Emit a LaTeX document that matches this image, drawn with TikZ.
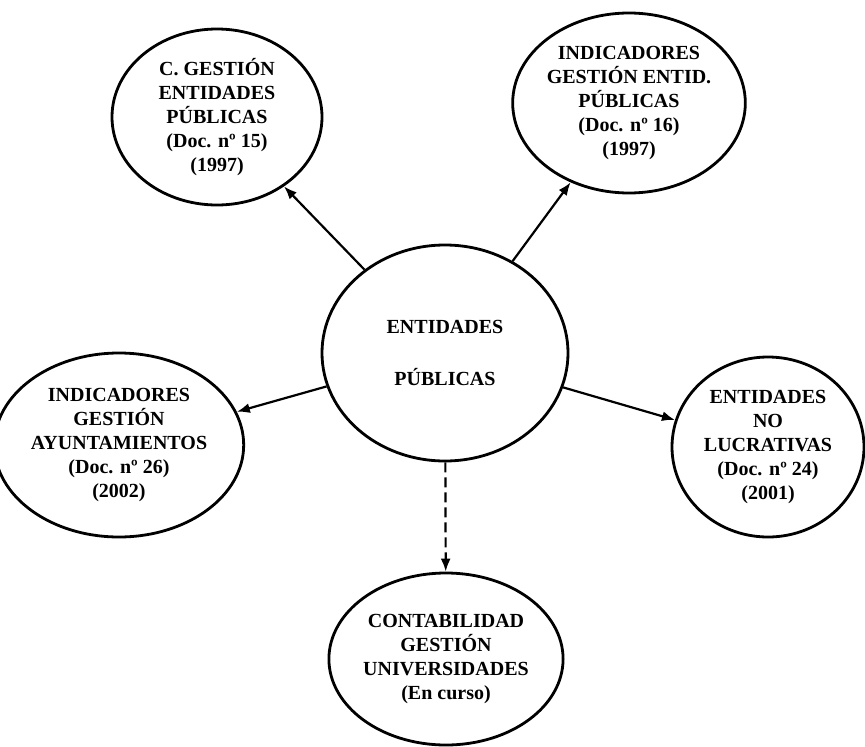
\documentclass[tikz,border=0pt]{standalone}
\usepackage{fontspec}
\setmainfont{Liberation Serif}
\usetikzlibrary{shapes.geometric,arrows.meta}

\tikzset{
	bubble/.style={draw,ellipse,line width=2.8pt,inner sep=0,align=center,
		font=\fontsize{20}{24}\selectfont\bfseries,
		execute at begin node={\rule{0pt}{38pt}}},
	link/.style={line width=2.2pt,-{Latex[length=13pt,width=10pt]}},
}

\begin{document}
\begin{tikzpicture}[x=1pt,y=-1pt]
	\useasboundingbox (0,0) rectangle (865,747);
	\node[bubble,minimum width=246pt,minimum height=216pt,execute at begin node={\rule{0pt}{26pt}}] (centro) at (445,353) {ENTIDADES\\[28pt]PÚBLICAS};
	\node[bubble,minimum width=210pt,minimum height=176pt] (gestion) at (217,117) {C. GESTIÓN\\ENTIDADES\\PÚBLICAS\\(Doc. nº 15)\\(1997)};
	\node[bubble,minimum width=198pt,minimum height=180pt] (indic) at (629,103) {INDICADORES\\GESTIÓN ENTID.\\PÚBLICAS\\(Doc. nº 16)\\(1997)};
	\node[bubble,minimum width=222pt,minimum height=184pt] (ayunt) at (119,445) {INDICADORES\\GESTIÓN\\AYUNTAMIENTOS\\(Doc. nº 26)\\(2002)};
	\node[bubble,minimum width=192pt,minimum height=180pt] (lucro) at (768,447) {ENTIDADES\\NO\\LUCRATIVAS\\(Doc. nº 24)\\(2001)};
	\node[bubble,minimum width=208pt,minimum height=172pt] (univ) at (446,659) {CONTABILIDAD\\GESTIÓN\\UNIVERSIDADES\\(En curso)};
	\draw[link] (centro) -- (gestion);
	\draw[link] (centro) -- (indic);
	\draw[link] (centro) -- (ayunt);
	\draw[link] (centro) -- (lucro);
	\draw[link,dash pattern=on 10pt off 5pt] (centro) -- (univ);
\end{tikzpicture}
\end{document}
